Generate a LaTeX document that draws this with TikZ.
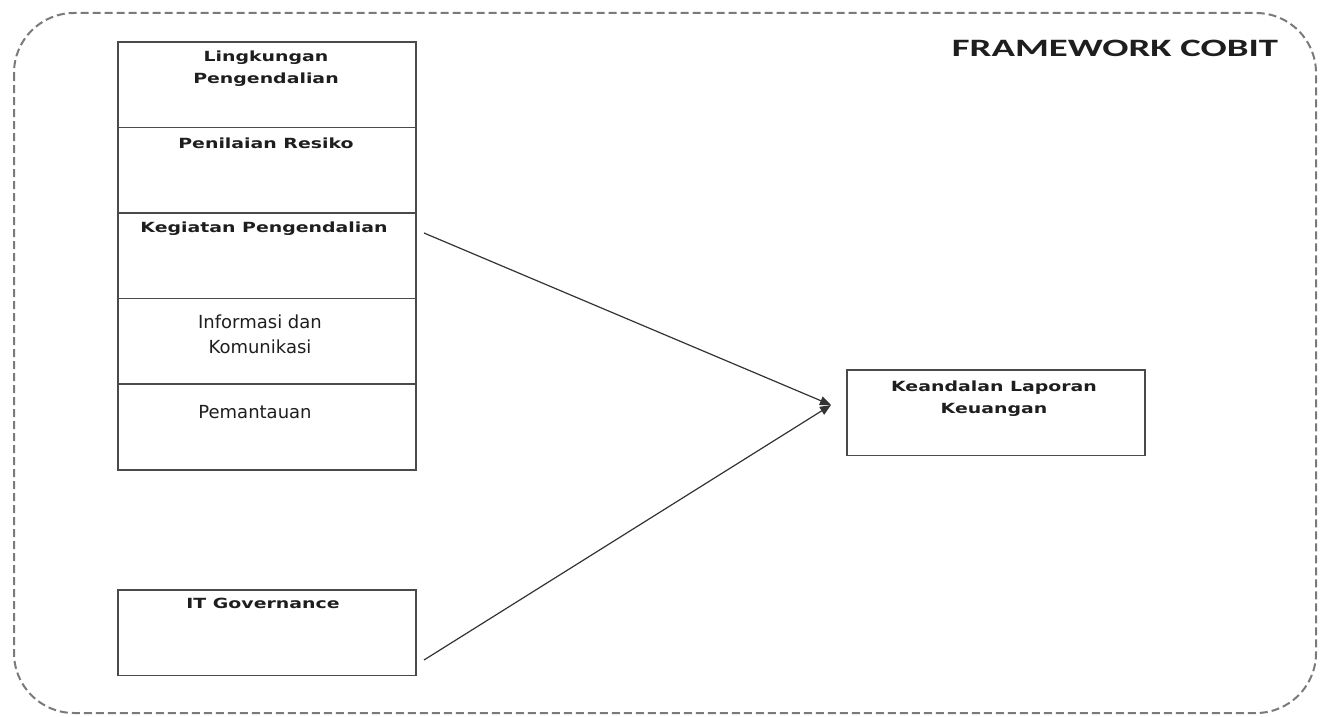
\documentclass[tikz,border=0pt]{standalone}
\usepackage{fontspec}
\usetikzlibrary{arrows.meta}
\newfontfamily\cellbold[FakeStretch=1.35]{DejaVu Sans}
\newfontfamily\cellreg{DejaVu Sans}
\newfontfamily\titlefont[FakeStretch=1.55]{Carlito}
\definecolor{boxline}{HTML}{4A4A4A}
\definecolor{dashline}{HTML}{7A7A7A}
\definecolor{txt}{HTML}{1E1E1E}
\definecolor{arrowcol}{HTML}{333333}
\tikzset{
  cell/.style={draw=boxline, line width=1.6pt, rectangle, minimum width=298pt, minimum height=85.6pt, inner sep=0pt, anchor=north west},
  boldtxt/.style={font=\cellbold\bfseries\fontsize{14}{22}\selectfont, text=txt, align=center, inner sep=0pt},
  regtxt/.style={font=\cellreg\fontsize{18}{25}\selectfont, text=txt, align=center, inner sep=0pt},
  conn/.style={draw=arrowcol, line width=1.2pt, arrows={-Triangle[length=11pt,width=9pt]}},
}
\begin{document}
\begin{tikzpicture}
\begin{scope}[x=1pt,y=-1pt]
\useasboundingbox (0,0) rectangle (1325,717);
\draw[dashline, line width=2pt, dash pattern=on 8pt off 4pt, rounded corners=60pt] (14,13) rectangle (1316,713);
\node[font=\titlefont\bfseries\fontsize{25}{25}\selectfont, text=txt, inner sep=0pt] (title) at (1115,48) {FRAMEWORK COBIT};
% stacked cells
\node[cell] (c1) at (117,41) {};
\node[cell] (c2) at (117,126.6) {};
\node[cell] (c3) at (117,212.2) {};
\node[cell] (c4) at (117,297.8) {};
\node[cell] (c5) at (117,383.4) {};
\node[boldtxt] (t1) at (266,69) {Lingkungan\\Pengendalian};
\node[boldtxt] (t2) at (266,143) {Penilaian Resiko};
\node[boldtxt] (t3) at (264,229) {Kegiatan Pengendalian};
\node[regtxt] (t4) at (260,334) {Informasi dan\\Komunikasi};
\node[regtxt] (t5) at (255,412) {Pemantauan};
% IT governance
\node[cell] (itg) at (117,589) {};
\node[boldtxt] (t6) at (263,603) {IT Governance};
% result
\node[cell] (kl) at (846,369) {};
\node[boldtxt] (t7) at (994,399) {Keandalan Laporan\\Keuangan};
% connectors
\coordinate (s1) at (424,233);
\coordinate (s2) at (424,660);
\coordinate (tip) at (831,405);
\end{scope}
\draw[conn] (s1) -- (tip);
\draw[conn] (s2) -- (tip);
\end{tikzpicture}
\end{document}
